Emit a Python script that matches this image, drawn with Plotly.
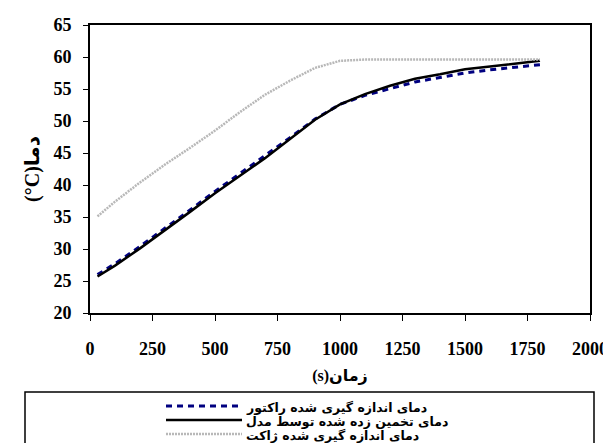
import plotly.graph_objects as go

time_s = [30, 100, 200, 300, 400, 500, 600, 700, 800, 900, 1000, 1100, 1200, 1300, 1400, 1500, 1600, 1700, 1800]
reactor_temp = [26.0, 27.7, 30.4, 33.2, 36.1, 39.0, 41.8, 44.5, 47.4, 50.3, 52.6, 54.0, 55.1, 56.1, 56.8, 57.5, 58.0, 58.4, 58.8]
model_temp = [25.7, 27.4, 30.1, 32.9, 35.8, 38.7, 41.5, 44.2, 47.2, 50.2, 52.6, 54.2, 55.5, 56.6, 57.3, 58.1, 58.5, 59.0, 59.4]
jacket_temp = [35.1, 37.4, 40.4, 43.2, 45.8, 48.5, 51.4, 54.1, 56.3, 58.3, 59.4, 59.6, 59.6, 59.6, 59.6, 59.6, 59.6, 59.6, 59.6]
x_ticks = [0, 250, 500, 750, 1000, 1250, 1500, 1750, 2000]

names = ["دمای اندازه گیری شده راکتور", "دمای تخمین زده شده توسط مدل", "دمای اندازه گیری شده ژاکت"]
styles = [dict(color="#000080", width=3, dash="6px,5px"),
          dict(color="black", width=2.5),
          dict(color="#b8b8b8", width=2.5, dash="2px,1px")]
series = [reactor_temp, model_temp, jacket_temp]

fig = go.Figure()
for name, ys, st in zip(names, series, styles):
    fig.add_trace(go.Scatter(x=time_s, y=ys, mode="lines", name=name, line=st))

# compact legend drawn in paper coordinates (box, line samples, labels)
sample_rows_y = [-0.3229, -0.3715, -0.4201]
text_rows_y = [-0.3281, -0.3767, -0.4253]
shapes = [dict(type="rect", xref="paper", yref="paper", x0=-0.13, x1=1.008, y0=-0.472, y1=-0.2743,
               line=dict(color="black", width=1.5), fillcolor="rgba(0,0,0,0)")]
annotations = []
for name, st, ly, ty in zip(names, styles, sample_rows_y, text_rows_y):
    shapes.append(dict(type="line", xref="paper", yref="paper", x0=0.152, x1=0.304, y0=ly, y1=ly,
                       line=st))
    annotations.append(dict(xref="paper", yref="paper", x=0.310, y=ty, xanchor="left", yanchor="middle",
                            text="<b>" + name + "</b>", showarrow=False, borderpad=0,
                            font=dict(family="DejaVu Sans", size=12.5, color="black")))

tickfont = dict(family="Liberation Serif", size=18, color="black", weight="bold")
fig.update_layout(
    width=611, height=443,
    margin=dict(l=82, r=29, t=17, b=138, autoexpand=False),
    paper_bgcolor="white", plot_bgcolor="white",
    showlegend=False,
    xaxis=dict(range=[0, 2000], tickvals=x_ticks, automargin=False,
               showgrid=False, zeroline=False, showline=True, linecolor="black", linewidth=2,
               mirror=True, ticks="outside", ticklen=6, tickcolor="black", ticklabelstandoff=12,
               tickfont=tickfont,
               title=dict(text="<b><span style='font-family:Liberation Serif'>(s)</span>زمان</b>",
                          font=dict(family="DejaVu Sans", size=16, color="black"), standoff=12)),
    yaxis=dict(range=[20, 65], dtick=5, automargin=False, showgrid=False, zeroline=False, showline=True,
               linecolor="black", linewidth=2, mirror=True, ticks="outside", ticklen=5,
               tickcolor="black", tickfont=tickfont, ticklabelstandoff=8,
               title=dict(text="<b><span style='font-family:Liberation Serif'>(°C)</span>دما</b>",
                          font=dict(family="DejaVu Sans", size=20, color="black"), standoff=8)),
    shapes=shapes,
    annotations=annotations,
)
fig.write_html("out.html")
